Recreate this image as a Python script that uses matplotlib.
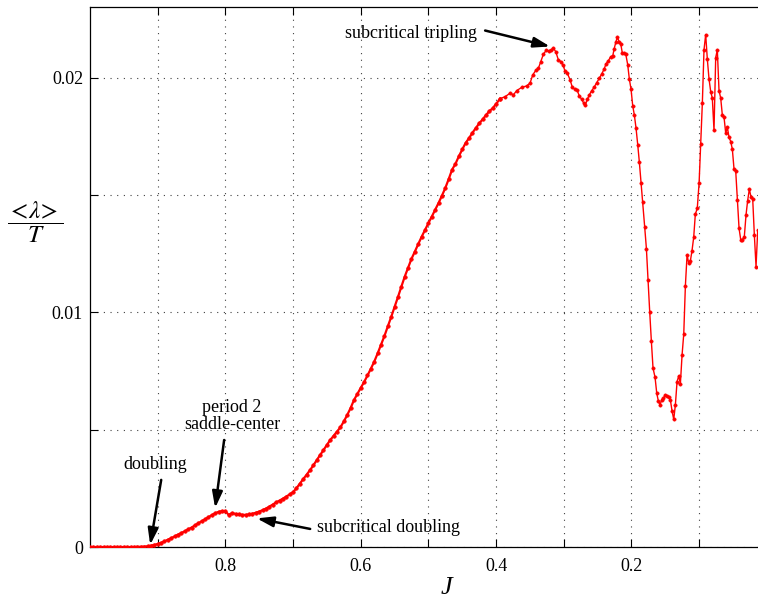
import matplotlib
matplotlib.use("Agg")
import matplotlib.pyplot as plt
from matplotlib.ticker import FixedLocator, FuncFormatter

plt.rcParams['font.family'] = ['Liberation Serif', 'DejaVu Serif']
plt.rcParams['mathtext.fontset'] = 'stix'

# ---- data: smooth branch (J from 1.0 down to 0.4) ----
J_smooth = [1.000, 0.995, 0.990, 0.985, 0.980, 0.975, 0.970, 0.965, 0.960, 0.955,
            0.950, 0.945, 0.940, 0.935, 0.930, 0.925, 0.920, 0.915, 0.910, 0.905,
            0.900, 0.895, 0.890, 0.885, 0.880, 0.875, 0.870, 0.865, 0.860, 0.855,
            0.850, 0.845, 0.840, 0.835, 0.830, 0.825, 0.820, 0.815, 0.810, 0.805,
            0.800, 0.795, 0.790, 0.785, 0.780, 0.775, 0.770, 0.765, 0.760, 0.755,
            0.750, 0.745, 0.740, 0.735, 0.730, 0.725, 0.720, 0.715, 0.710, 0.705,
            0.700, 0.695, 0.690, 0.685, 0.680, 0.675, 0.670, 0.665, 0.660, 0.655,
            0.650, 0.645, 0.640, 0.635, 0.630, 0.625, 0.620, 0.615, 0.610, 0.605,
            0.600, 0.595, 0.590, 0.585, 0.580, 0.575, 0.570, 0.565, 0.560, 0.555,
            0.550, 0.545, 0.540, 0.535, 0.530, 0.525, 0.520, 0.515, 0.510, 0.505,
            0.500, 0.495, 0.490, 0.485, 0.480, 0.475, 0.470, 0.465, 0.460, 0.455,
            0.450, 0.445, 0.440, 0.435, 0.430, 0.425, 0.420, 0.415, 0.410, 0.405,
            0.400]
lam_smooth = [0, 0, 0, 0, 0, 0, 0, 0, 0, 0,
              0, 0, 0, 0, 0.00001, 0.00001, 0.00002, 0.00003, 0.00006, 0.00009,
              0.00013, 0.00018, 0.00024, 0.00031, 0.00038, 0.00045, 0.00053, 0.00060, 0.00067, 0.00075,
              0.00083, 0.00092, 0.00101, 0.00110, 0.00118, 0.00127, 0.00136, 0.00144, 0.00150, 0.00153,
              0.00152, 0.00137, 0.00145, 0.00141, 0.00139, 0.00137, 0.00137, 0.00139, 0.00142, 0.00146,
              0.00151, 0.00157, 0.00164, 0.00172, 0.00181, 0.00190, 0.00198, 0.00206, 0.00215, 0.00224,
              0.00234, 0.00250, 0.00270, 0.00289, 0.00308, 0.00327, 0.00348, 0.00370, 0.00392, 0.00413,
              0.00435, 0.00456, 0.00474, 0.00492, 0.00510, 0.00535, 0.00562, 0.00592, 0.00626, 0.00652,
              0.00678, 0.00703, 0.00731, 0.00760, 0.00790, 0.00825, 0.00862, 0.00899, 0.00940, 0.00980,
              0.01023, 0.01065, 0.01109, 0.01152, 0.01190, 0.01228, 0.01259, 0.01291, 0.01322, 0.01351,
              0.01380, 0.01408, 0.01437, 0.01466, 0.01497, 0.01530, 0.01568, 0.01608, 0.01633, 0.01665,
              0.01694, 0.01722, 0.01742, 0.01765, 0.01785, 0.01805, 0.01822, 0.01840, 0.01857, 0.01870,
              0.01888]

# ---- data: irregular branch (J below 0.4) ----
J_rough = [0.3941, 0.3867, 0.3793, 0.3744, 0.3695, 0.3620, 0.3547, 0.3498, 0.3458, 0.3409,
           0.3375, 0.3340, 0.3301, 0.3261, 0.3222, 0.3188, 0.3154, 0.3118, 0.3080, 0.3044,
           0.3015, 0.2981, 0.2947, 0.2907, 0.2873, 0.2838, 0.2804, 0.2770, 0.2735, 0.2705,
           0.2681, 0.2651, 0.2622, 0.2586, 0.2552, 0.2513, 0.2474, 0.2439, 0.2405, 0.2375,
           0.2341, 0.2306, 0.2276, 0.2257, 0.2232, 0.2208, 0.2183, 0.2158, 0.2134, 0.2109,
           0.2084, 0.2055, 0.2031, 0.2006, 0.1981, 0.1957, 0.1932, 0.1907, 0.1883, 0.1858,
           0.1833, 0.1804, 0.1779, 0.1755, 0.1730, 0.1706, 0.1681, 0.1651, 0.1626, 0.1602,
           0.1578, 0.1553, 0.1528, 0.1499, 0.1474, 0.1449, 0.1425, 0.1400, 0.1375, 0.1351,
           0.1326, 0.1301, 0.1277, 0.1252, 0.1227, 0.1203, 0.1178, 0.1154, 0.1130, 0.1105,
           0.1080, 0.1056, 0.1027, 0.1000, 0.0976, 0.0952, 0.0928, 0.0903, 0.0879, 0.0854,
           0.0829, 0.0805, 0.0780, 0.0755, 0.0731, 0.0706, 0.0681, 0.0657, 0.0632, 0.0607,
           0.0583, 0.0558, 0.0533, 0.0509, 0.0484, 0.0459, 0.0435, 0.0410, 0.0385, 0.0361,
           0.0332, 0.0307, 0.0283, 0.0258, 0.0233, 0.0208, 0.0184, 0.0159, 0.0134]
lam_rough = [0.01911, 0.01919, 0.01934, 0.01927, 0.01945, 0.01959, 0.01965, 0.01977, 0.02012, 0.02033,
             0.02040, 0.02069, 0.02100, 0.02116, 0.02114, 0.02118, 0.02126, 0.02111, 0.02076, 0.02069,
             0.02055, 0.02029, 0.02019, 0.01991, 0.01959, 0.01951, 0.01948, 0.01922, 0.01908, 0.01891,
             0.01884, 0.01908, 0.01927, 0.01945, 0.01959, 0.01979, 0.01998, 0.02016, 0.02036, 0.02059,
             0.02072, 0.02090, 0.02093, 0.02121, 0.02150, 0.02173, 0.02154, 0.02144, 0.02104, 0.02104,
             0.02101, 0.02055, 0.01994, 0.01951, 0.01880, 0.01841, 0.01785, 0.01714, 0.01640, 0.01553,
             0.01469, 0.01363, 0.01272, 0.01139, 0.01002, 0.00879, 0.00762, 0.00723, 0.00655, 0.00622,
             0.00605, 0.00627, 0.00634, 0.00648, 0.00644, 0.00638, 0.00627, 0.00580, 0.00544, 0.00605,
             0.00705, 0.00729, 0.00695, 0.00818, 0.00908, 0.01113, 0.01245, 0.01209, 0.01218, 0.01263,
             0.01320, 0.01418, 0.01444, 0.01553, 0.01718, 0.01894, 0.02118, 0.02184, 0.02080, 0.01995,
             0.01941, 0.01913, 0.01775, 0.02086, 0.02118, 0.01945, 0.01913, 0.01841, 0.01832, 0.01763,
             0.01789, 0.01746, 0.01728, 0.01695, 0.01610, 0.01601, 0.01479, 0.01358, 0.01309, 0.01309,
             0.01323, 0.01415, 0.01476, 0.01525, 0.01491, 0.01482, 0.01330, 0.01195, 0.01351]

x_labeled = [0.8, 0.6, 0.4, 0.2]
x_unlabeled = [0.9, 0.7, 0.5, 0.3, 0.1]
y_labeled = [0, 0.01, 0.02]
y_unlabeled = [0.005, 0.015]

fig = plt.figure(figsize=(7.58, 6.01), dpi=100)
ax = fig.add_axes([90/758, 1-547/601, 668/758, (547-7.3)/601])

# dense smooth branch drawn slightly heavier (markers overlap into a thick line)
ax.plot(J_smooth + J_rough[:1], lam_smooth + lam_rough[:1], color='#ff0000', lw=1.6,
        marker='o', ms=2.6, mec='#ff0000', mfc='#ff0000', mew=0.4, zorder=3)
ax.plot(J_rough, lam_rough, color='#ff0000', lw=1.0, marker='o', ms=2.4,
        mec='#ff0000', mfc='#ff0000', mew=0.4, zorder=3)

ax.set_xlim(1.0, 0.013)
ax.set_ylim(0, 0.023)

ax.xaxis.set_major_locator(FixedLocator(x_labeled))
ax.xaxis.set_minor_locator(FixedLocator(x_unlabeled))
ax.yaxis.set_major_locator(FixedLocator(y_labeled))
ax.yaxis.set_minor_locator(FixedLocator(y_unlabeled))
ax.xaxis.set_major_formatter(FuncFormatter(lambda v, p: f"{v:g}"))
ax.yaxis.set_major_formatter(FuncFormatter(lambda v, p: f"{v:g}"))
ax.tick_params(which='both', direction='in', length=6, width=0.8,
               top=True, right=False, labelsize=13, colors='k')
ax.tick_params(axis='x', which='both', pad=8)
ax.tick_params(axis='y', which='both', pad=5)

ax.grid(True, which='both', color='0.25', lw=0.8, linestyle=(0, (1, 5)))
ax.set_axisbelow(True)

for s in ['left', 'bottom', 'top']:
    ax.spines[s].set_linewidth(0.9)
ax.spines['right'].set_visible(False)

fig.text(446/758, 1-588/601, 'J', fontsize=19, style='italic',
         ha='center', va='center')
fig.text(35/758, 1-222/601, r'$\dfrac{<\!\lambda\!>}{T}$', fontsize=18,
         ha='center', va='center')

arrow = dict(arrowstyle='-|>,head_length=0.7,head_width=0.22', lw=1.8,
             color='k', shrinkA=0, shrinkB=0, mutation_scale=14)
ax.text(0.5256, 0.02187, 'subcritical tripling', fontsize=13, ha='center', va='center')
ax.annotate('', xy=(0.3202, 0.02133), xytext=(0.4162, 0.02201), arrowprops=arrow)

ax.text(0.790, 0.00558, 'period 2\nsaddle-center', fontsize=13, ha='center',
        va='center', linespacing=1.0)
ax.annotate('', xy=(0.8151, 0.00166), xytext=(0.8018, 0.00456), arrowprops=arrow)

ax.text(0.9037, 0.00350, 'doubling', fontsize=13, ha='center', va='center')
ax.annotate('', xy=(0.9111, 0.00009), xytext=(0.8948, 0.00286), arrowprops=arrow)

ax.text(0.6644, 0.00085, 'subcritical doubling', fontsize=13, ha='left', va='center')
ax.annotate('', xy=(0.7535, 0.00122), xytext=(0.6747, 0.00077), arrowprops=arrow)

fig.savefig('out.png', dpi=100)
